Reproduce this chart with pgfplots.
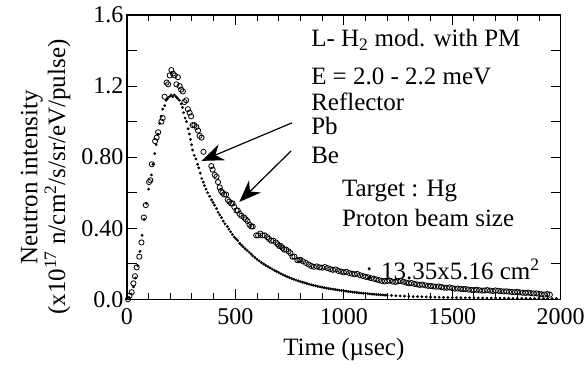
\documentclass[border=0pt]{standalone}
\usepackage{fontspec}
\setmainfont{Liberation Serif}
\usepackage{pgfplots}
\pgfplotsset{compat=1.18}
\usetikzlibrary{arrows.meta}
\newcommand{\af}{\fontsize{25}{28}\selectfont}
\begin{document}
\begin{tikzpicture}
\begin{axis}[name=ax,
  scale only axis, width=434pt, height=284.5pt,
  xmin=0, xmax=2000, ymin=0, ymax=1.6,
  xtick={0,500,1000,1500,2000},
  xticklabels={0,500,1000,1500,2000},
  minor x tick num=4,
  ytick={0,0.2,0.4,0.6,0.8,1.0,1.2,1.4,1.6},
  yticklabels={0.0,,0.40,,0.80,,1.2,,1.6},
  major tick length=10pt, minor tick length=6pt,
  tick style={line width=1pt, black},
  axis line style={line width=1.2pt},
  tick label style={font=\fontsize{24}{28}\selectfont},
  xticklabel style={yshift=-6pt},
  label style={font=\fontsize{25}{28}\selectfont},
  xlabel={Time (µsec)},
  xlabel style={yshift=-6pt},
  ylabel={Neutron intensity\\(x10\textsuperscript{17} n/cm\textsuperscript{2}/s/sr/eV/pulse)},
  ylabel style={align=center, at={(ticklabel cs:0.43,4pt)}},
  clip=false,
]
% Be (small dots)
\addplot[only marks, mark=*, mark size=1.2pt, black] coordinates {
(10,0.01)(20,0.03)(30,0.07)(40,0.12)(50,0.19)(60,0.27)(70,0.36)(80,0.45)(90,0.54)(100,0.62)
(113,0.70)(120,0.76)(128,0.82)(135,0.87)(143,0.93)(151,0.99)(158,1.03)(165,1.07)(174,1.09)(181,1.12)
(188,1.13)(196,1.14)(204,1.15)(211,1.14)(219,1.15)(227,1.14)(234,1.13)(242,1.12)(250,1.10)(256,1.08)
(261,1.05)(268,1.02)(275,1.00)(282,0.96)(288,0.93)(293,0.90)(298,0.87)(303,0.84)(310,0.81)(318,0.79)
(326,0.76)(331,0.74)(338,0.71)(345,0.68)(352,0.66)(358,0.64)(365,0.62)(372,0.60)(381,0.58)(390,0.56)
(397,0.545)(404,0.53)(413,0.51)(420,0.49)(428,0.475)(436,0.46)(444,0.44)(452,0.425)(463,0.41)(470,0.395)
(478,0.38)(486,0.365)(495,0.35)(503,0.34)(511,0.33)(520,0.315)(528,0.305)(536,0.295)(545,0.285)(554,0.275)
(564,0.265)(573,0.255)(580,0.245)(590,0.235)
(600,0.225)(610,0.216)(620,0.2075)(630,0.199)(640,0.191)(650,0.184)(660,0.177)(670,0.170)(680,0.163)(690,0.1565)
(700,0.150)(710,0.144)(720,0.138)(730,0.1325)(740,0.127)(750,0.122)(760,0.117)(770,0.1125)(780,0.108)(790,0.104)
(800,0.100)(810,0.096)(820,0.0925)(830,0.089)(840,0.0855)(850,0.082)(860,0.079)(870,0.076)(880,0.073)(890,0.0705)
(900,0.068)(910,0.0655)(920,0.063)(930,0.061)(940,0.059)(950,0.057)(960,0.055)(970,0.053)(980,0.0513)(990,0.0496)
(1000,0.048)(1010,0.046)(1020,0.0445)(1030,0.043)(1040,0.041)(1050,0.0397)(1060,0.0382)(1070,0.0368)(1080,0.0355)(1090,0.0342)
(1100,0.033)(1110,0.0318)(1120,0.0307)(1130,0.0296)(1140,0.0285)(1150,0.0275)(1160,0.0265)(1170,0.0256)(1180,0.0247)(1190,0.0238)
(1200,0.023)(1220,0.0216)(1240,0.0203)(1260,0.019)(1280,0.0178)(1300,0.0167)(1320,0.0158)(1340,0.015)(1360,0.0142)(1380,0.0135)
(1400,0.0128)(1420,0.0122)(1440,0.0116)(1460,0.011)(1480,0.0105)(1500,0.010)(1520,0.0096)(1540,0.0092)(1560,0.0088)(1580,0.0085)
(1600,0.0082)(1620,0.0079)(1640,0.0076)(1660,0.0073)(1680,0.0071)(1700,0.0069)(1720,0.0066)(1740,0.0064)(1760,0.0062)(1780,0.006)
(1800,0.0058)(1820,0.0056)(1840,0.0054)(1860,0.0053)(1880,0.0051)(1900,0.005)(1920,0.0048)(1940,0.0047)(1960,0.0046)(1980,0.0045)
};
% Pb (open circles)
\addplot[only marks, mark=o, mark size=2.6pt, line width=0.8pt, black] coordinates {
(5,0.00)(12,0.02)(22,0.04)(30,0.09)(37,0.13)(45,0.18)(57,0.24)(67,0.32)(78,0.46)(87,0.53)
(102,0.66)(108,0.67)(115,0.76)(130,0.89)(137,0.91)(144,0.94)(159,1.00)(165,1.02)(174,1.14)(183,1.22)
(190,1.21)(197,1.26)(205,1.29)(212,1.27)(220,1.26)(228,1.21)(235,1.25)(243,1.20)(250,1.18)(258,1.17)
(265,1.11)(273,1.12)(281,1.07)(289,1.05)(296,1.03)(303,0.98)(311,0.98)(320,0.97)(328,0.95)(335,0.92)
(344,0.91)(353,0.83)(389,0.75)(395,0.73)(405,0.70)(413,0.69)(420,0.66)(428,0.63)(434,0.61)(440,0.60)
(448,0.59)(457,0.59)(465,0.56)(472,0.55)(480,0.54)(487,0.54)(495,0.52)(505,0.50)(511,0.50)(520,0.48)
(528,0.47)(541,0.46)(548,0.45)(556,0.44)(565,0.42)(573,0.41)(580,0.41)(596,0.36)(605,0.36)(615,0.37)
(625,0.36)(635,0.36)(647,0.35)(655,0.34)(665,0.33)(675,0.33)(687,0.32)(695,0.31)(702,0.30)(710,0.30)
(717,0.29)(725,0.28)(734,0.28)(745,0.27)(754,0.26)(763,0.24)(772,0.24)(786,0.22)(795,0.22)
(800,0.222)(812,0.214)(825,0.205)(838,0.196)(850,0.188)(862,0.183)(875,0.185)(888,0.180)(900,0.178)(912,0.182)
(925,0.176)(938,0.170)(950,0.166)(962,0.168)(975,0.160)(988,0.156)(1000,0.152)(1012,0.155)(1025,0.148)(1038,0.144)
(1050,0.141)(1062,0.143)(1075,0.136)(1088,0.131)(1100,0.127)(1112,0.124)(1125,0.119)(1138,0.116)(1150,0.112)(1162,0.108)
(1175,0.104)(1188,0.101)(1200,0.103)(1212,0.106)(1225,0.100)(1238,0.098)(1250,0.101)(1262,0.104)(1275,0.099)(1288,0.094)
(1300,0.090)(1312,0.092)(1325,0.087)(1338,0.084)(1350,0.081)(1362,0.083)(1375,0.079)(1388,0.076)(1400,0.075)(1412,0.073)
(1425,0.071)(1438,0.072)(1450,0.069)(1462,0.066)(1475,0.065)(1488,0.067)(1500,0.063)(1512,0.060)(1525,0.061)(1538,0.059)
(1550,0.057)(1562,0.058)(1575,0.055)(1588,0.053)(1600,0.052)(1612,0.054)(1625,0.051)(1638,0.049)(1650,0.050)(1662,0.052)
(1675,0.049)(1688,0.047)(1700,0.050)(1712,0.048)(1725,0.046)(1738,0.044)(1750,0.045)(1762,0.043)(1775,0.041)(1788,0.040)
(1800,0.042)(1812,0.039)(1825,0.037)(1838,0.036)(1850,0.038)(1862,0.035)(1875,0.033)(1888,0.034)(1900,0.031)(1912,0.029)
(1925,0.027)(1938,0.030)(1950,0.026)
};
% arrows
\draw[line width=1.2pt, -{Stealth[length=22pt, width=17pt, inset=7pt]}] (axis cs:761,0.993) -- (axis cs:344,0.779);
\draw[line width=1.2pt, -{Stealth[length=22pt, width=17pt, inset=7pt]}] (axis cs:757,0.835) -- (axis cs:518,0.548);
% annotations
\node[font=\af, inner sep=0pt, anchor=base west] at (axis cs:849,1.42) {L- H\textsubscript{2} mod. with PM};
\node[font=\af, inner sep=0pt, anchor=base west] at (axis cs:849,1.21) {E = 2.0 - 2.2 meV};
\node[font=\af, inner sep=0pt, anchor=base west] at (axis cs:849,1.065) {Reflector};
\node[font=\af, inner sep=0pt, anchor=base west] at (axis cs:849,0.925) {Pb};
\node[font=\af, inner sep=0pt, anchor=base west] at (axis cs:849,0.765) {Be};
\node[font=\af, inner sep=0pt, anchor=base west] at (axis cs:991,0.576) {Target : Hg};
\node[font=\af, inner sep=0pt, anchor=base west] at (axis cs:991,0.408) {Proton beam size};
\node[font=\af, inner sep=0pt, anchor=base west] at (axis cs:1101,0.11) {: 13.35x5.16 cm\textsuperscript{2}};
\end{axis}
\path ([xshift=-127pt,yshift=-74.5pt]ax.south west) rectangle ([xshift=27pt,yshift=15pt]ax.north east);
\end{tikzpicture}
\end{document}
